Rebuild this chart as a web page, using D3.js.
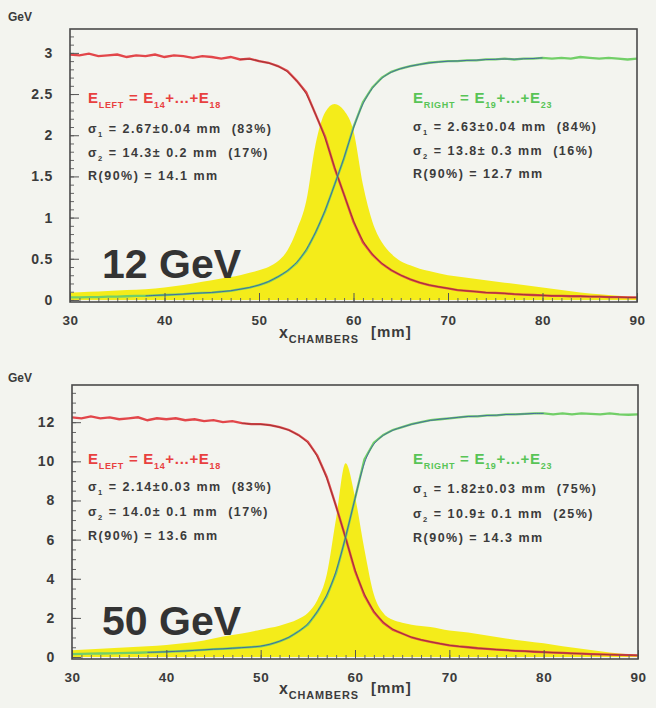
<!DOCTYPE html>
<html>
<head>
<meta charset="utf-8">
<script src="https://cdn.jsdelivr.net/npm/d3@7"></script>
<style>
  body { margin: 0; background: #f3f4ef; }
  svg { display: block; font-family: "Liberation Sans", Arial, sans-serif; font-weight: bold; }
  text { white-space: pre; }
</style>
</head>
<body>
<svg id="chart" width="656" height="708"></svg>
<script>
// Chamber position (mm) for the E_LEFT / E_RIGHT profiles
const xChambers = [30, 31, 32, 33, 34, 35, 36, 37, 38, 39, 40, 41, 42, 43, 44, 45, 46, 47, 48, 49,
  50, 51, 52, 53, 54, 55, 56, 57, 58, 59, 60, 61, 62, 63, 64, 65, 66, 67, 68, 69,
  70, 71, 72, 73, 74, 75, 76, 77, 78, 79, 80, 81, 82, 83, 84, 85, 86, 87, 88, 89, 90];

// 12 GeV
const eLeft12 = [2.98, 2.97, 2.99, 2.96, 2.97, 2.98, 2.95, 2.97, 2.96, 2.98, 2.95, 2.97, 2.96, 2.94, 2.96, 2.95, 2.93, 2.95, 2.92, 2.93,
  2.90, 2.88, 2.84, 2.78, 2.66, 2.52, 2.25, 1.98, 1.60, 1.28, 0.95, 0.70, 0.55, 0.44, 0.36, 0.30, 0.25, 0.21, 0.18, 0.16,
  0.14, 0.12, 0.11, 0.10, 0.09, 0.085, 0.08, 0.07, 0.065, 0.06, 0.055, 0.05, 0.05, 0.045, 0.045, 0.04, 0.04, 0.035, 0.035, 0.03, 0.03];
const eRight12 = [0.03, 0.03, 0.035, 0.035, 0.04, 0.04, 0.045, 0.05, 0.05, 0.055, 0.06, 0.065, 0.07, 0.08, 0.085, 0.09, 0.10, 0.11, 0.13, 0.15,
  0.18, 0.22, 0.28, 0.35, 0.45, 0.60, 0.82, 1.08, 1.40, 1.72, 2.10, 2.40, 2.58, 2.70, 2.77, 2.81, 2.84, 2.86, 2.88, 2.89,
  2.90, 2.90, 2.91, 2.91, 2.92, 2.92, 2.93, 2.92, 2.93, 2.93, 2.94, 2.93, 2.94, 2.93, 2.95, 2.94, 2.93, 2.94, 2.93, 2.92, 2.93];
const profileX12 = [30, 32, 34, 36, 38, 40, 42, 44, 46, 47, 48, 49, 50, 51, 52, 53, 54, 55, 56, 57, 58, 59, 60,
  61, 62, 63, 64, 65, 66, 67, 68, 70, 72, 74, 76, 78, 80, 82, 84, 86, 88, 90];
const profile12 = [0.09, 0.10, 0.11, 0.12, 0.13, 0.15, 0.18, 0.22, 0.26, 0.28, 0.30, 0.33, 0.36, 0.40, 0.47, 0.60, 0.85, 1.20, 1.90, 2.28, 2.38, 2.30, 2.05,
  1.40, 0.95, 0.70, 0.56, 0.47, 0.42, 0.38, 0.35, 0.30, 0.27, 0.24, 0.21, 0.18, 0.15, 0.12, 0.09, 0.07, 0.05, 0.03];

// 50 GeV
const eLeft50 = [12.25, 12.2, 12.3, 12.2, 12.25, 12.15, 12.2, 12.25, 12.1, 12.2, 12.15, 12.2, 12.1, 12.15, 12.05, 12.1, 12.0, 12.05, 11.95, 11.9,
  11.9, 11.85, 11.75, 11.6, 11.35, 11.0, 10.3, 9.2, 7.7, 6.1, 4.4, 3.15, 2.3, 1.75, 1.4, 1.2, 1.0, 0.88, 0.78, 0.68,
  0.6, 0.54, 0.5, 0.45, 0.42, 0.38, 0.35, 0.32, 0.3, 0.27, 0.25, 0.23, 0.21, 0.19, 0.17, 0.15, 0.14, 0.12, 0.11, 0.1, 0.09];
const eRight50 = [0.15, 0.16, 0.17, 0.18, 0.19, 0.2, 0.21, 0.22, 0.24, 0.25, 0.27, 0.29, 0.31, 0.34, 0.37, 0.4, 0.42, 0.45, 0.48, 0.51,
  0.55, 0.65, 0.8, 1.0, 1.3, 1.65, 2.3, 3.1, 4.3, 6.1, 8.1, 10.1, 10.95, 11.35, 11.6, 11.75, 11.9, 12.0, 12.1, 12.15,
  12.2, 12.25, 12.3, 12.3, 12.35, 12.35, 12.4, 12.4, 12.42, 12.45, 12.45, 12.4, 12.45, 12.4, 12.45, 12.42, 12.4, 12.45, 12.4, 12.38, 12.4];
const profileX50 = [30, 32, 34, 36, 38, 40, 42, 44, 46, 48, 50, 52, 53, 54, 55, 56, 57, 58, 59, 60,
  61, 62, 63, 64, 65, 66, 67, 68, 70, 72, 74, 76, 78, 80, 82, 84, 86, 88, 90];
const profile50 = [0.35, 0.4, 0.45, 0.5, 0.55, 0.62, 0.72, 0.85, 1.05, 1.2, 1.4, 1.6, 1.75, 1.95, 2.25, 2.9, 4.2, 7.1, 9.9, 8.2,
  5.5, 3.2, 2.25, 1.9, 1.75, 1.65, 1.58, 1.53, 1.35, 1.25, 1.1, 0.95, 0.82, 0.7, 0.55, 0.42, 0.3, 0.18, 0.1];

// Tick labels
const xTicks = [30, 40, 50, 60, 70, 80, 90];
const yTicks12 = [0, 0.5, 1, 1.5, 2, 2.5, 3];
const yTicks50 = [0, 2, 4, 6, 8, 10, 12];

// Fit results printed on each panel
const leftTitle = [["E"], ["LEFT", "sub"], [" = E"], ["14", "sub"], ["+...+E"], ["18", "sub"]];
const rightTitle = [["E"], ["RIGHT", "sub"], [" = E"], ["19", "sub"], ["+...+E"], ["23", "sub"]];
const leftStats12 = ["2.67±0.04 mm  (83%)", "14.3± 0.2 mm  (17%)", "14.1 mm"];
const rightStats12 = ["2.63±0.04 mm  (84%)", "13.8± 0.3 mm  (16%)", "12.7 mm"];
const leftStats50 = ["2.14±0.03 mm  (83%)", "14.0± 0.1 mm  (17%)", "13.6 mm"];
const rightStats50 = ["1.82±0.03 mm  (75%)", "10.9± 0.1 mm  (25%)", "14.3 mm"];

const panels = [
  {
    energy: "12 GeV", left: eLeft12, right: eRight12, profX: profileX12, prof: profile12,
    yDomain: [-0.025, 3.29], yTicks: yTicks12, yMinorStep: 0.1,
    box: { x0: 70, x1: 637, y0: 29, y1: 302 },
    stats: [leftStats12, rightStats12], textY: [103, 133, 157, 180], rightTextY: [103, 131, 155, 178],
    unitY: 21, axisTitleY: 341
  },
  {
    energy: "50 GeV", left: eLeft50, right: eRight50, profX: profileX50, prof: profile50,
    yDomain: [-0.1, 13.9], yTicks: yTicks50, yMinorStep: 0.5,
    box: { x0: 72, x1: 638, y0: 385, y1: 659 },
    stats: [leftStats50, rightStats50], textY: [464, 491, 516, 540], rightTextY: [464, 493, 518, 542],
    unitY: 382, axisTitleY: 697
  }
];

const svg = d3.select("#chart");
const INK = "#3b3b3b";

// Text with subscript tspans; dy is reset after each shifted run
function richText(g, x, y, parts, size, color, spacing, subRatio) {
  const ratio = subRatio || 0.6;
  const t = g.append("text").attr("x", x).attr("y", y).attr("fill", color)
    .style("font-size", size + "px").style("letter-spacing", (spacing || 0) + "px");
  let shift = 0;
  parts.forEach(([s, kind]) => {
    const target = kind === "sub" ? size * 0.32 : 0;
    t.append("tspan").attr("dy", target - shift)
      .style("font-size", kind ? (size * ratio).toFixed(1) + "px" : null).text(s);
    shift = target;
  });
  return t;
}

panels.forEach((p) => {
  const g = svg.append("g");
  const x = d3.scaleLinear().domain([30, 90]).range([p.box.x0, p.box.x1]);
  const y = d3.scaleLinear().domain(p.yDomain).range([p.box.y1, p.box.y0]);

  const clipId = "clip" + p.energy.replace(/\W/g, "");
  g.append("clipPath").attr("id", clipId).append("rect")
    .attr("x", p.box.x0).attr("y", p.box.y0)
    .attr("width", p.box.x1 - p.box.x0).attr("height", p.box.y1 - p.box.y0);
  const plot = g.append("g").attr("clip-path", `url(#${clipId})`);

  // Lateral shower profile (yellow)
  const area = d3.area().x((d, i) => x(p.profX[i])).y0(y(0)).y1((d) => y(d)).curve(d3.curveMonotoneX);
  plot.append("path").datum(p.prof).attr("d", area).attr("fill", "#f4ec1a");

  const line = d3.line().x((d) => x(d[0])).y((d) => y(d[1]));
  const leftPts = xChambers.map((v, i) => [v, p.left[i]]);
  const rightPts = xChambers.map((v, i) => [v, p.right[i]]);

  // Measured energies
  plot.append("path").datum(leftPts).attr("d", line).attr("fill", "none")
    .attr("stroke", "#e2464a").attr("stroke-width", 2.3);
  plot.append("path").datum(rightPts).attr("d", line).attr("fill", "none")
    .attr("stroke", "#72cf68").attr("stroke-width", 2.3);

  // Fitted curves
  const fit = d3.line().x((d) => x(d[0])).y((d) => y(d[1])).curve(d3.curveBasis);
  plot.append("path").datum(leftPts.filter((d) => d[0] >= 48)).attr("d", fit).attr("fill", "none")
    .attr("stroke", "#7e2d2d").attr("stroke-width", 0.9).attr("opacity", 0.75);
  plot.append("path").datum(rightPts.filter((d) => d[0] >= 38 && d[0] <= 80)).attr("d", fit).attr("fill", "none")
    .attr("stroke", "#3d5aa6").attr("stroke-width", 1).attr("opacity", 0.85);

  // Inside ticks, ROOT style
  const yMinor = d3.range(0, p.yDomain[1], p.yMinorStep);
  g.append("g").attr("transform", `translate(${p.box.x0},0)`)
    .call(d3.axisLeft(y).tickValues(yMinor).tickSize(-4).tickFormat(""))
    .call((a) => a.select(".domain").remove())
    .selectAll("line").attr("stroke", "#666");
  g.append("g").attr("transform", `translate(${p.box.x0},0)`)
    .call(d3.axisLeft(y).tickValues(p.yTicks).tickSize(-9).tickPadding(17).tickFormat(d3.format("")))
    .call((a) => a.select(".domain").remove())
    .call((a) => a.selectAll("line").attr("stroke", "#555"))
    .call((a) => a.selectAll("text").attr("fill", INK).style("font-size", "14px")
      .style("letter-spacing", "0.8px").style("font-family", "inherit"));

  g.append("g").attr("transform", `translate(0,${p.box.y1})`)
    .call(d3.axisBottom(x).tickValues(d3.range(30, 91, 1)).tickSize(-4).tickFormat(""))
    .call((a) => a.select(".domain").remove())
    .selectAll("line").attr("stroke", "#666");
  g.append("g").attr("transform", `translate(0,${p.box.y1})`)
    .call(d3.axisBottom(x).tickValues(xTicks).tickSize(-9).tickPadding(13))
    .call((a) => a.select(".domain").remove())
    .call((a) => a.selectAll("line").attr("stroke", "#555"))
    .call((a) => a.selectAll("text").attr("fill", INK).style("font-size", "13.5px")
      .style("letter-spacing", "0.6px").style("font-family", "inherit"));

  // Frame
  g.append("rect").attr("x", p.box.x0).attr("y", p.box.y0)
    .attr("width", p.box.x1 - p.box.x0).attr("height", p.box.y1 - p.box.y0)
    .attr("fill", "none").attr("stroke", "#4a4a4a").attr("stroke-width", 1.6);

  // Unit and axis title
  g.append("text").attr("x", 20).attr("y", p.unitY).attr("text-anchor", "middle")
    .attr("fill", INK).style("font-size", "12px").text("GeV");
  richText(g, 279, p.axisTitleY - 3, [["x"], ["CHAMBERS", "sub"]], 16, INK, 0.9, 0.68);
  g.append("text").attr("x", 371).attr("y", p.axisTitleY - 4).attr("fill", INK)
    .style("font-size", "15px").style("letter-spacing", "1px").text("[mm]");

  // Energy label
  g.append("text").attr("x", 102).attr("y", p.box.y1 - 24).attr("fill", "#333")
    .style("font-size", "41px").text(p.energy);

  // Fit results
  const blocks = [
    { x: 88, ys: p.textY, title: leftTitle, color: "#e8403f", stats: p.stats[0] },
    { x: 413, ys: p.rightTextY, title: rightTitle, color: "#58c456", stats: p.stats[1] }
  ];
  blocks.forEach((b) => {
    richText(g, b.x, b.ys[0], b.title, 15, b.color, 0.7);
    richText(g, b.x, b.ys[1], [["σ"], ["1", "sub"], [" = " + b.stats[0]]], 12.5, INK, 1.5);
    richText(g, b.x, b.ys[2], [["σ"], ["2", "sub"], [" = " + b.stats[1]]], 12.5, INK, 1.5);
    richText(g, b.x, b.ys[3], [["R(90%) = " + b.stats[2]]], 12.5, INK, 1.5);
  });
});
</script>
</body>
</html>
